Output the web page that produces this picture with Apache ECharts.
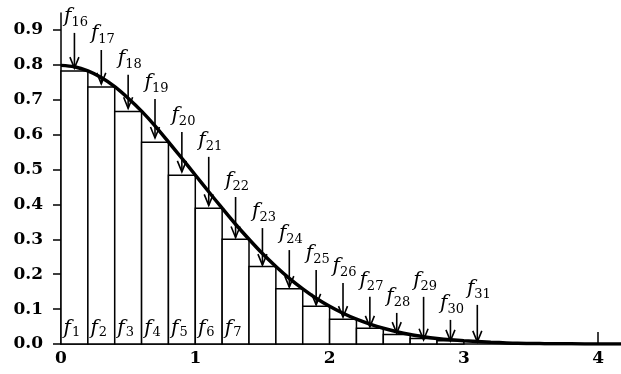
<!DOCTYPE html>
<html>
<head>
<meta charset="utf-8">
<script src="https://cdn.jsdelivr.net/npm/echarts@6/dist/echarts.min.js"></script>
<style>
html, body { margin: 0; padding: 0; background: #fff; }
#chart { width: 621px; height: 374px; }
</style>
</head>
<body>
<div id="chart"></div>
<script>
// rectangles f1..f15 (left edge, right edge, height)
var rectLeft = [0, 0.2, 0.4, 0.6, 0.8, 1.0, 1.2, 1.4, 1.6, 1.8, 2.0, 2.2, 2.4, 2.6, 2.8];
var rectRight = [0.2, 0.4, 0.6, 0.8, 1.0, 1.2, 1.4, 1.6, 1.8, 2.0, 2.2, 2.4, 2.6, 2.8, 3.0];
var rectHeights = [0.782, 0.736, 0.666, 0.578, 0.483, 0.389, 0.300, 0.222, 0.158, 0.108, 0.071, 0.045, 0.027, 0.016, 0.009];
var rectNames = ['1', '2', '3', '4', '5', '6', '7'];

// the density curve
var curveX = [0, 0.1, 0.2, 0.3, 0.4, 0.5, 0.6, 0.7, 0.8, 0.9, 1.0, 1.1, 1.2, 1.3, 1.4, 1.5, 1.6, 1.7, 1.8, 1.9,
	2.0, 2.1, 2.2, 2.3, 2.4, 2.5, 2.6, 2.7, 2.8, 2.9, 3.0, 3.2, 3.4, 3.6, 3.8, 4.0, 4.17];
var curveY = [0.798, 0.794, 0.782, 0.763, 0.737, 0.704, 0.667, 0.625, 0.579, 0.532, 0.484, 0.436, 0.389, 0.343,
	0.300, 0.259, 0.222, 0.188, 0.158, 0.131, 0.108, 0.088, 0.071, 0.057, 0.045, 0.035, 0.027, 0.021, 0.016,
	0.012, 0.009, 0.005, 0.002, 0.001, 0.0005, 0.0001, 0];

// wedge arrows f16..f31
var arrowNames = ['16', '17', '18', '19', '20', '21', '22', '23', '24', '25', '26', '27', '28', '29', '30', '31'];
var arrowX = [0.1, 0.3, 0.5, 0.7, 0.9, 1.1, 1.3, 1.5, 1.7, 1.9, 2.1, 2.3, 2.5, 2.7, 2.9, 3.1];
var arrowTop = [0.891, 0.842, 0.771, 0.702, 0.607, 0.536, 0.421, 0.332, 0.269, 0.212, 0.175, 0.135, 0.089, 0.135, 0.069, 0.112];
var arrowTip = [0.790, 0.745, 0.675, 0.590, 0.493, 0.397, 0.305, 0.226, 0.163, 0.112, 0.077, 0.049, 0.031, 0.012, 0.009, 0.006];

var xLabels = [0, 1, 2, 3, 4];
var xTickAt = [4];
var yLabels = [0, 0.1, 0.2, 0.3, 0.4, 0.5, 0.6, 0.7, 0.8, 0.9];

var serif = '"DejaVu Serif", serif';

var chart = echarts.init(document.getElementById('chart'));

function renderRect(params, api) {
	var lo = api.coord([api.value(0), api.value(2)]);
	var hi = api.coord([api.value(1), 0]);
	var kids = [{
		type: 'rect',
		shape: { x: lo[0], y: lo[1], width: hi[0] - lo[0], height: hi[1] - lo[1] },
		style: { fill: '#fff', stroke: '#000', lineWidth: 1.5 }
	}];
	var name = rectNames[params.dataIndex];
	if (name) {
		kids.push({
			type: 'text', x: lo[0] + 10, y: hi[1] - 5,
			style: { text: 'f', font: 'italic 20px ' + serif, fill: '#000', align: 'right', verticalAlign: 'bottom' }
		});
		kids.push({
			type: 'text', x: lo[0] + 11, y: hi[1] - 5,
			style: { text: name, font: '13px ' + serif, fill: '#000', align: 'left', verticalAlign: 'bottom' }
		});
	}
	return { type: 'group', children: kids };
}

function renderArrow(params, api) {
	var top = api.coord([api.value(0), api.value(1)]);
	var tip = api.coord([api.value(0), api.value(2)]);
	var name = arrowNames[params.dataIndex];
	return {
		type: 'group',
		children: [{
			type: 'line',
			shape: { x1: top[0], y1: top[1], x2: tip[0], y2: tip[1] },
			style: { stroke: '#000', lineWidth: 1.6 }
		}, {
			type: 'polyline',
			shape: { points: [[tip[0] - 4.5, tip[1] - 11], [tip[0], tip[1]], [tip[0] + 4.5, tip[1] - 11]] },
			style: { stroke: '#000', fill: null, lineWidth: 1.6 }
		}, {
			type: 'text', x: top[0] - 3, y: top[1] - 6,
			style: { text: 'f', font: 'italic 20px ' + serif, fill: '#000', align: 'right', verticalAlign: 'bottom' }
		}, {
			type: 'text', x: top[0] - 3, y: top[1] - 4,
			style: { text: name, font: '13px ' + serif, fill: '#000', align: 'left', verticalAlign: 'bottom' }
		}]
	};
}

chart.setOption({
	animation: false,
	grid: {
		left: 61,
		right: 0,
		top: 13,
		bottom: 30,
		containLabel: false,
		outerBoundsMode: 'none'
	},
	xAxis: {
		type: 'value',
		min: 0,
		max: 4.17,
		interval: 1,
		splitLine: { show: false },
		axisLine: { lineStyle: { color: '#000', width: 1.5 } },
		axisTick: {
			inside: true,
			length: 12,
			customValues: xTickAt,
			lineStyle: { color: '#000', width: 1.5 }
		},
		axisLabel: {
			customValues: xLabels,
			margin: 6,
			color: '#000',
			fontFamily: serif,
			fontWeight: 'bold',
			fontSize: 17,
			formatter: function (v) { return String(v); }
		}
	},
	yAxis: {
		type: 'value',
		min: 0,
		max: 0.948,
		interval: 0.1,
		splitLine: { show: false },
		axisLine: { show: true, lineStyle: { color: '#000', width: 1.5 } },
		axisTick: {
			show: true,
			length: 8,
			customValues: yLabels,
			lineStyle: { color: '#000', width: 1.5 }
		},
		axisLabel: {
			customValues: yLabels,
			margin: 18,
			color: '#000',
			fontFamily: serif,
			fontWeight: 'bold',
			fontSize: 17,
			formatter: function (v) { return v.toFixed(1); }
		}
	},
	series: [{
		type: 'custom',
		z: 1,
		renderItem: renderRect,
		data: rectLeft.map(function (x, i) { return [x, rectRight[i], rectHeights[i]]; })
	}, {
		type: 'line',
		z: 3,
		showSymbol: false,
		smooth: 0.3,
		lineStyle: { color: '#000', width: 3.5 },
		data: curveX.map(function (x, i) { return [x, curveY[i]]; })
	}, {
		type: 'custom',
		z: 4,
		renderItem: renderArrow,
		data: arrowX.map(function (x, i) { return [x, arrowTop[i], arrowTip[i]]; })
	}]
});
</script>
</body>
</html>
